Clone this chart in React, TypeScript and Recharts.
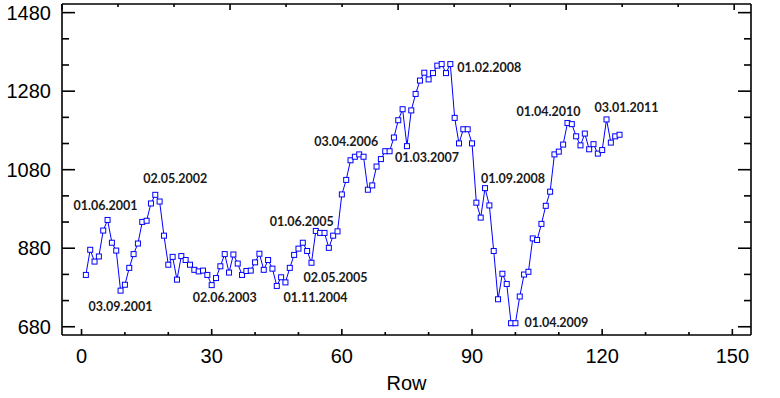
import React from 'react';
import { LineChart, Line, XAxis, YAxis } from 'recharts';

// one value per row
const values = [
  812, 876, 846, 859, 925, 952, 894, 874, 772, 787,
  830, 865, 892, 947, 950, 994, 1016, 999, 912, 838,
  858, 800, 860, 850, 838, 825, 821, 823, 812, 786,
  804, 834, 865, 818, 864, 841, 812, 822, 823, 844,
  866, 825, 850, 828, 784, 806, 793, 830, 863, 879,
  894, 873, 843, 924, 919, 919, 881, 912, 923, 1017,
  1054, 1104, 1113, 1119, 1113, 1029, 1040, 1088, 1107, 1127,
  1127, 1162, 1206, 1234, 1140, 1231, 1273, 1307, 1327, 1310,
  1326, 1345, 1349, 1326, 1349, 1212, 1147, 1183, 1183, 1147,
  996, 958, 1033, 989, 873, 750, 815, 789, 689, 689,
  757, 813, 820, 905, 901, 942, 988, 1024, 1119, 1126,
  1144, 1199, 1196, 1165, 1142, 1172, 1132, 1145, 1121, 1130,
  1208, 1149, 1165, 1169,
];

const notes = [
  { row: 6, text: '01.06.2001' },
  { row: 9, text: '03.09.2001' },
  { row: 17, text: '02.05.2002' },
  { row: 30, text: '02.06.2003' },
  { row: 47, text: '01.11.2004' },
  { row: 53, text: '02.05.2005' },
  { row: 54, text: '01.06.2005' },
  { row: 64, text: '03.04.2006' },
  { row: 75, text: '01.03.2007' },
  { row: 85, text: '01.02.2008' },
  { row: 93, text: '01.09.2008' },
  { row: 100, text: '01.04.2009' },
  { row: 112, text: '01.04.2010' },
  { row: 121, text: '03.01.2011' },
];

const xMajorTicks = [0, 30, 60, 90, 120, 150];
const yMajorTicks = [680, 880, 1080, 1280, 1480];

// where each note sits relative to its point (px)
const noteOffsets: Record<string, [number, number]> = {
  '01.06.2001': [-2, -14],
  '03.09.2001': [0, 16],
  '02.05.2002': [20, -16],
  '02.06.2003': [13, 12],
  '01.11.2004': [30, 15],
  '02.05.2005': [24, 15],
  '01.06.2005': [-14, -9],
  '03.04.2006': [-13, -13],
  '01.03.2007': [20, 11],
  '01.02.2008': [39, 3],
  '01.09.2008': [28, -10],
  '01.04.2009': [41, -1],
  '01.04.2010': [-19, -11],
  '03.01.2011': [20, -12],
};

const data = values.map((v, i) => {
  const note = notes.find((n) => n.row === i + 1);
  return { row: i + 1, value: v, note: note ? note.text : '' };
});

// majors plus two minor ticks in between
const withMinor = (majors: number[]) => {
  const out: number[] = [];
  for (let i = 0; i < majors.length - 1; i++) {
    const step = (majors[i + 1] - majors[i]) / 3;
    for (let k = 0; k < 3; k++) out.push(majors[i] + k * step);
  }
  out.push(majors[majors.length - 1]);
  return out;
};

const xTicks = withMinor(xMajorTicks);
const yTicks = withMinor(yMajorTicks);
const isMajor = (list: number[], v: number) => list.some((m) => Math.abs(m - v) < 0.01);

const font = '"Liberation Sans", Arial, sans-serif';
const axisStroke = { stroke: '#000', strokeWidth: 1.6 };

const BottomTick = ({ x, y, payload }: any) => {
  const major = isMajor(xMajorTicks, payload.value);
  return (
    <g>
      <line x1={x} x2={x} y1={y} y2={y - (major ? 6 : 3)} stroke="#000" strokeWidth={1.6} />
      {major && (
        <text x={x} y={y + 28} textAnchor="middle" fontSize={20} fontFamily={font} fill="#000">
          {payload.value}
        </text>
      )}
    </g>
  );
};

const TopTick = ({ x, y, payload }: any) => {
  const major = isMajor(xMajorTicks, payload.value);
  return <line x1={x} x2={x} y1={y} y2={y + (major ? 6 : 3)} stroke="#000" strokeWidth={1.6} />;
};

const LeftTick = ({ x, y, payload }: any) => {
  const major = isMajor(yMajorTicks, payload.value);
  return (
    <g>
      <line x1={x} x2={x + (major ? 13 : 7)} y1={y} y2={y} stroke="#000" strokeWidth={1.6} />
      {major && (
        <text x={x - 11} y={y + 7} textAnchor="end" fontSize={20} fontFamily={font} fill="#000">
          {Math.round(payload.value)}
        </text>
      )}
    </g>
  );
};

const RightTick = ({ x, y, payload }: any) => {
  const major = isMajor(yMajorTicks, payload.value);
  return <line x1={x} x2={x - (major ? 13 : 7)} y1={y} y2={y} stroke="#000" strokeWidth={1.6} />;
};

const renderDot = (p: any) => {
  const { cx, cy, payload, index } = p;
  const off = payload.note ? noteOffsets[payload.note] : null;
  return (
    <g key={`dot-${index}`}>
      <rect x={cx - 2.5} y={cy - 2.5} width={5} height={5} fill="#fff" stroke="#0000ff" strokeWidth={1} />
      {off && (
        <text
          x={cx + off[0]}
          y={cy + off[1] + 4.5}
          textAnchor="middle"
          fontSize={12.5}
          fontWeight="bold"
          fontFamily="Lato, 'Open Sans', sans-serif"
          fill="#1a1a1a"
        >
          {payload.note}
        </text>
      )}
    </g>
  );
};

const xDomain = [-4.5, 154.3];
const yDomain = [659, 1502];

export default function App() {
  return (
    <div style={{ position: 'absolute', left: 0, top: 0, background: '#fff' }}>
      <LineChart width={780} height={398} data={data} margin={{ top: 0, right: 0, bottom: 0, left: 0 }}>
        <XAxis
          dataKey="row"
          type="number"
          domain={xDomain}
          allowDataOverflow
          ticks={xTicks}
          interval={0}
          height={63}
          tickLine={false}
          tickSize={0}
          tickMargin={0}
          axisLine={axisStroke}
          tick={<BottomTick />}
          label={{ value: 'Row', position: 'insideBottom', offset: 8, fill: '#000', fontSize: 20, fontFamily: font }}
        />
        <XAxis
          xAxisId="top"
          orientation="top"
          type="number"
          domain={xDomain}
          allowDataOverflow
          ticks={xTicks}
          interval={0}
          height={4}
          tickLine={false}
          tickSize={0}
          tickMargin={0}
          axisLine={axisStroke}
          tick={<TopTick />}
        />
        <YAxis
          type="number"
          domain={yDomain}
          allowDataOverflow
          ticks={yTicks}
          interval={0}
          width={62}
          tickLine={false}
          tickSize={0}
          tickMargin={0}
          axisLine={axisStroke}
          tick={<LeftTick />}
        />
        <YAxis
          yAxisId="right"
          orientation="right"
          type="number"
          domain={yDomain}
          allowDataOverflow
          ticks={yTicks}
          interval={0}
          width={29}
          tickLine={false}
          tickSize={0}
          tickMargin={0}
          axisLine={axisStroke}
          tick={<RightTick />}
        />
        <Line
          dataKey="value"
          stroke="#0000ff"
          strokeWidth={1}
          dot={renderDot}
          activeDot={false}
          isAnimationActive={false}
        />
      </LineChart>
    </div>
  );
}
